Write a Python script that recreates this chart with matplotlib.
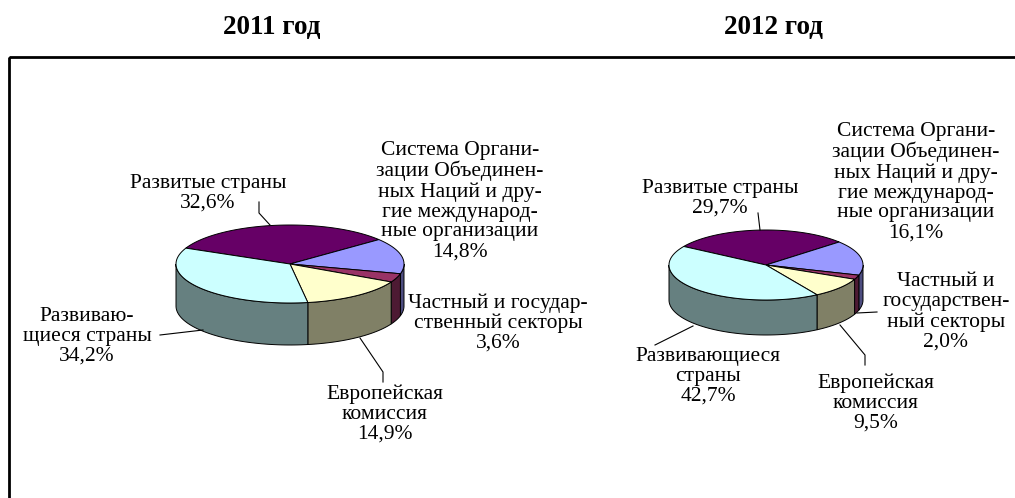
import numpy as np
import matplotlib
matplotlib.use('Agg')
import matplotlib.pyplot as plt
from matplotlib.patches import Polygon, Rectangle

plt.rcParams['font.family'] = ['Liberation Serif', 'DejaVu Serif']

# order: developed, UN system, private/public, European Commission, developing
names_2011 = ['Развитые страны',
              'Система Органи-\nзации Объединен-\nных Наций и дру-\nгие международ-\nные организации',
              'Частный и госудаp-\nственный секторы',
              'Европейская\nкомиссия',
              'Развиваю-\nщиеся страны']
names_2012 = ['Развитые страны',
              'Система Органи-\nзации Объединен-\nных Наций и дру-\nгие международ-\nные организации',
              'Частный и\nгосударствен-\nный секторы',
              'Европейская\nкомиссия',
              'Развивающиеся\nстраны']
values_2011 = [32.6, 14.8, 3.6, 14.9, 34.2]
values_2012 = [29.7, 16.1, 2.0, 9.5, 42.7]
years = ['2011 год', '2012 год']

top_colors = ['#660066', '#9999FF', '#993366', '#FFFFCC', '#CCFFFF']
side_colors = ['#330033', '#4D4D80', '#4D1A33', '#808066', '#668080']


def draw_pie(ax, cx, cy, a, b, depth, values, start):
    vals = np.array(values, dtype=float)
    bounds = start - 360 * np.concatenate([[0], np.cumsum(vals) / vals.sum()])
    # sides (front half only)
    for i in range(len(vals)):
        th0, th1 = bounds[i], bounds[i + 1]
        for k in range(-2, 3):
            lo = max(th1, -180 + 360 * k)
            hi = min(th0, 360 * k)
            if lo >= hi:
                continue
            t = np.radians(np.linspace(hi, lo, 60))
            xs = cx + a * np.cos(t)
            ys = cy - b * np.sin(t)
            pts = np.column_stack([np.concatenate([xs, xs[::-1]]),
                                   np.concatenate([ys, ys[::-1] + depth])])
            ax.add_patch(Polygon(pts, closed=True, facecolor=side_colors[i],
                                 edgecolor='black', lw=0.7))
    # top face
    for i in range(len(vals)):
        t = np.radians(np.linspace(bounds[i], bounds[i + 1], 120))
        xs = np.concatenate([[cx], cx + a * np.cos(t)])
        ys = np.concatenate([[cy], cy - b * np.sin(t)])
        ax.add_patch(Polygon(np.column_stack([xs, ys]), closed=True,
                             facecolor=top_colors[i], edgecolor='black', lw=0.7))


def pct(v):
    return ('%.1f' % v).replace('.', ',') + '%'


fig = plt.figure(figsize=(10.15, 4.98), dpi=100)
ax = fig.add_axes([0, 0, 1, 1])
ax.set_xlim(0, 1015)
ax.set_ylim(498, 0)
ax.axis('off')

ax.add_patch(Rectangle((9, 57), 1030, 460, fill=False, edgecolor='black', lw=2))

ax.text(272, 27, years[0], ha='center', va='center', fontsize=19.5, fontweight='bold')
ax.text(773, 27, years[1], ha='center', va='center', fontsize=19.5, fontweight='bold')

draw_pie(ax, 290, 264, 114, 39, 42, values_2011, 156)
draw_pie(ax, 766, 265, 97, 35, 35, values_2012, 148)

pos_2011 = [(208, 193), (460, 201), (498, 323), (385, 414), (87, 336)]
pos_2012 = [(720, 198), (916, 182), (946, 312), (876, 403), (708, 376)]
for names, vals, pos in [(names_2011, values_2011, pos_2011),
                         (names_2012, values_2012, pos_2012)]:
    for n, v, (x, y) in zip(names, vals, pos):
        ax.text(x, y, n + '\n' + pct(v), ha='center', va='center',
                fontsize=15.5, linespacing=1.065)

leaders = [
    [(259, 202), (259, 213), (270, 225)],
    [(160, 335), (203, 330)],
    [(360, 338), (383, 372), (383, 382)],
    [(758, 213), (760, 230)],
    [(693, 326), (655, 345)],
    [(857, 313), (877, 312)],
    [(840, 325), (865, 355), (865, 365)],
]
for ln in leaders:
    xs, ys = zip(*ln)
    ax.plot(xs, ys, color='black', lw=0.8)

fig.savefig('out.png', dpi=100)
